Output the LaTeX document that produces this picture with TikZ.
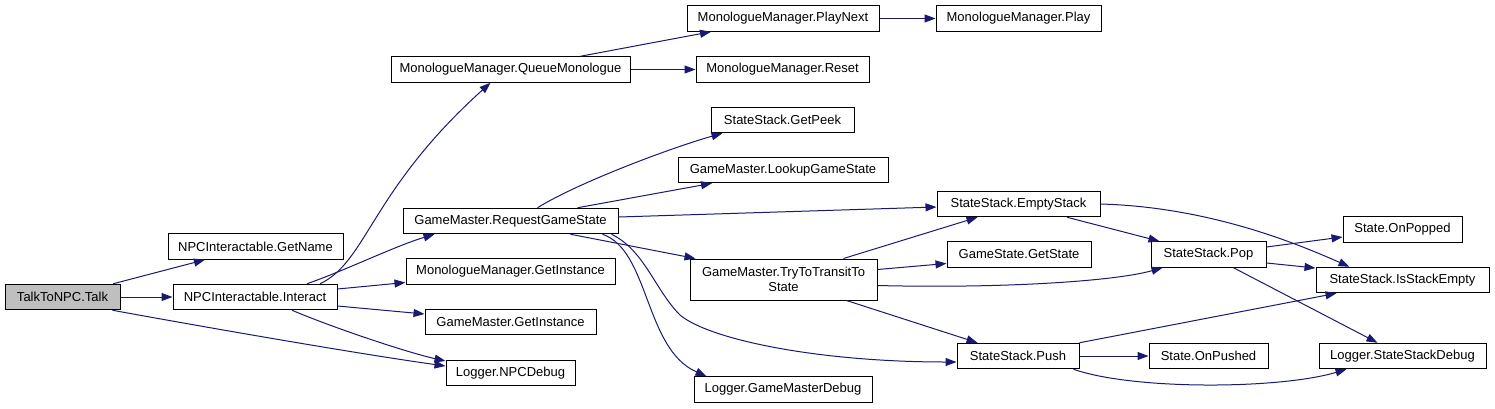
\documentclass[tikz,border=0pt]{standalone}
\usepackage{fontspec}
\setmainfont{Liberation Sans}
\usepackage{xcolor}
\usetikzlibrary{arrows.meta,calc}
\definecolor{edgeblue}{HTML}{191970}
\definecolor{rootgray}{HTML}{BFBFBF}

\begin{document}
\begin{tikzpicture}[x=1pt, y=-1pt]
    % Define styles
    \tikzstyle{fn} = [rectangle, draw=black, line width=1pt, fill=white, minimum height=25.5pt, inner sep=0pt, font=\fontsize{13}{15}\selectfont]
    \tikzstyle{root} = [fn, fill=rootgray]
    \tikzstyle{call} = [draw=edgeblue, line width=1pt, -{Triangle[length=11pt, width=8pt]}]

    \useasboundingbox (0,0) rectangle (1495,408);

    % Functions
    \node[root, minimum width=115pt] (talk) at (62.5,297) {TalkToNPC.Talk};
    \node[fn, minimum width=175pt] (getname) at (255.5,246.5) {NPCInteractable.GetName};
    \node[fn, minimum width=164pt] (interact) at (255,297) {NPCInteractable.Interact};
    \node[fn, minimum width=239pt] (queue) at (510.5,69.5) {MonologueManager.QueueMonologue};
    \node[fn, minimum width=215pt] (request) at (510.5,221) {GameMaster.RequestGameState};
    \node[fn, minimum width=209pt] (mgetinst) at (510.5,271.5) {MonologueManager.GetInstance};
    \node[fn, minimum width=171pt] (ggetinst) at (510.5,322) {GameMaster.GetInstance};
    \node[fn, minimum width=129pt] (npcdebug) at (510.5,373) {Logger.NPCDebug};
    \node[fn, minimum width=192pt] (playnext) at (783,18.5) {MonologueManager.PlayNext};
    \node[fn, minimum width=173pt] (reset) at (782.5,69.5) {MonologueManager.Reset};
    \node[fn, minimum width=143pt] (getpeek) at (782.5,120) {StateStack.GetPeek};
    \node[fn, minimum width=210pt] (lookup) at (783,170) {GameMaster.LookupGameState};
    \node[fn, minimum width=187pt, minimum height=41pt, align=center] (transit) at (783.5,279.5) {GameMaster.TryToTransitTo\\State};
    \node[fn, minimum width=178pt] (gmdebug) at (783,389.5) {Logger.GameMasterDebug};
    \node[fn, minimum width=165pt] (play) at (1018.5,18.5) {MonologueManager.Play};
    \node[fn, minimum width=163pt] (emptystack) at (1018.5,204) {StateStack.EmptyStack};
    \node[fn, minimum width=144pt] (getstate) at (1019,254.5) {GameState.GetState};
    \node[fn, minimum width=122pt] (push) at (1018,356) {StateStack.Push};
    \node[fn, minimum width=115pt] (pop) at (1208.5,254.5) {StateStack.Pop};
    \node[fn, minimum width=119pt] (onpushed) at (1208.5,356) {State.OnPushed};
    \node[fn, minimum width=119pt] (onpopped) at (1402.5,229.5) {State.OnPopped};
    \node[fn, minimum width=173pt] (isempty) at (1402.5,280) {StateStack.IsStackEmpty};
    \node[fn, minimum width=167pt] (ssdebug) at (1402.5,356) {Logger.StateStackDebug};

    % Calls from TalkToNPC.Talk
    \draw[call] (talk) -- (getname);
    \draw[call] (talk) -- (interact);
    \draw[call] ($(talk.south east)+(-8,0)$) .. controls +(60,11) and +(-100,-14) .. ($(npcdebug.west)+(0,-7)$);

    % Calls from NPCInteractable.Interact
    \draw[call] ($(interact.north)+(65,0)$) .. controls +(47,-22) and +(-120,108) .. ($(queue.south)+(-20,0)$);
    \draw[call] ($(interact.north)+(52,0)$) .. controls +(40,-14) and +(-40,12) .. ($(request.south west)+(32,0)$);
    \draw[call] ($(interact.east)+(0,-8)$) -- ($(mgetinst.west)+(0,11)$);
    \draw[call] ($(interact.east)+(0,9)$) -- ($(ggetinst.west)+(0,-8)$);
    \draw[call] ($(interact.south)+(37,0)$) .. controls +(40,17) and +(-40,-9) .. ($(npcdebug.west)+(0,-12)$);

    % Calls from MonologueManager
    \draw[call] ($(queue.north)+(70,0)$) -- ($(playnext.south)+(-72,0)$);
    \draw[call] (queue) -- (reset);
    \draw[call] (playnext) -- (play);

    % Calls from GameMaster.RequestGameState
    \draw[call] ($(request.north)+(27,0)$) .. controls +(40,-25) and +(-50,14) .. ($(getpeek.south)+(-60,0)$);
    \draw[call] ($(request.north)+(67,0)$) -- ($(lookup.south)+(-71,0)$);
    \draw[call] ($(request.east)+(0,-4)$) -- ($(emptystack.west)+(0,3)$);
    \draw[call] ($(request.south)+(60,0)$) -- ($(transit.north west)+(6,0)$);
    \draw[call] ($(request.south)+(92,0)$) .. controls +(47,16) and +(-62,-27) .. ($(gmdebug.north west)+(13,0)$);
    \draw[call] ($(request.south)+(101,0)$) .. controls +(33,16) and +(-25,-25) .. (680,315) .. controls +(30,25) and +(-137,0) .. ($(push.west)+(0,6)$);

    % Calls from GameMaster.TryToTransitToState
    \draw[call] ($(transit.north)+(60,0)$) -- ($(emptystack.south)+(-41,0)$);
    \draw[call] ($(transit.east)+(0,-10)$) -- ($(getstate.west)+(0,9)$);
    \draw[call] ($(transit.east)+(0,6)$) .. controls +(120,3) and +(-50,14) .. ($(pop.south west)+(12,0)$);
    \draw[call] ($(transit.south)+(63,0)$) -- ($(push.north west)+(21,0)$);

    % Calls from StateStack.EmptyStack
    \draw[call] ($(emptystack.south)+(48.5,0)$) -- ($(pop.north west)+(9,0)$);
    \draw[call] (emptystack.east) .. controls +(110,3) and +(-50,-22) .. ($(isempty.north west)+(34,0)$);

    % Calls from StateStack.Pop
    \draw[call] ($(pop.east)+(0,-7.5)$) -- ($(onpopped.west)+(0,7.5)$);
    \draw[call] ($(pop.east)+(0,8.5)$) -- ($(isempty.west)+(0,-12)$);
    \draw[call] ($(pop.south)+(25,0)$) -- ($(ssdebug.north)+(-25,0)$);

    % Calls from StateStack.Push
    \draw[call] (push.north east) -- ($(isempty.south west)+(21,0)$);
    \draw[call] (push) -- (onpushed);
    \draw[call] ($(push.south east)+(-6,0)$) .. controls +(60,21) and +(-67,20) .. ($(ssdebug.south west)+(28,0)$);
\end{tikzpicture}
\end{document}
